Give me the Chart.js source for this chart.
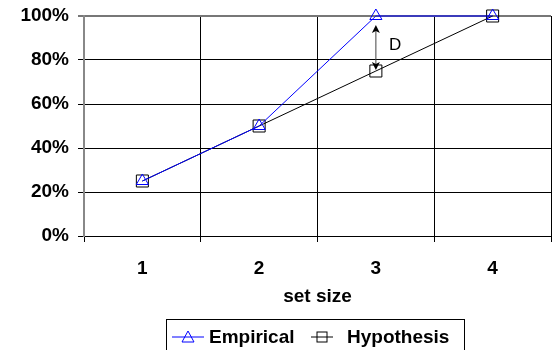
<!DOCTYPE html>
<html>
<head>
<meta charset="utf-8">
<script src="https://cdn.jsdelivr.net/npm/chart.js@4"></script>
<style>
  html, body { margin: 0; padding: 0; background: #fff; }
  #wrap { position: relative; width: 556px; height: 350px; overflow: hidden; }
  #legend {
    position: absolute; left: 166px; top: 319px; width: 299px; height: 40px;
    border: 1px solid #000; box-sizing: border-box;
    font: bold 19px "Liberation Sans", Arial, sans-serif; color: #000;
  }
  #legend .item { position: absolute; top: 6px; white-space: nowrap; }
  #legend svg { position: absolute; top: 0; }
</style>
</head>
<body>
<div id="wrap">
  <canvas id="myChart" width="556" height="350"></canvas>
  <div id="legend">
    <svg style="left:5px" width="34" height="36">
      <line x1="0" y1="17" x2="32" y2="17" stroke="#0000ff" stroke-width="1"/>
      <polygon points="16,11 22,22 10,22" fill="none" stroke="#0000ff" stroke-width="1"/>
    </svg>
    <span class="item" style="left:42px">Empirical</span>
    <svg style="left:144px" width="24" height="36">
      <line x1="0" y1="17" x2="22" y2="17" stroke="#000" stroke-width="1"/>
      <rect x="6" y="12" width="10" height="10" fill="none" stroke="#000" stroke-width="1"/>
    </svg>
    <span class="item" style="left:180px">Hypothesis</span>
  </div>
</div>
<script>
// set sizes on the x axis
const setSizes = ['1', '2', '3', '4'];
// proportions in percent
const empirical = [25, 50, 100, 100];
const hypothesis = [25, 50, 75, 100];
const yTicks = [0, 20, 40, 60, 80, 100];

const font = {family: '"Liberation Sans", Arial, sans-serif', size: 19, weight: 'bold'};

// double arrow between the two series at set size 3, labelled D
const gapArrow = {
    id: 'gapArrow',
    afterDatasetsDraw(chart) {
        const x = chart.scales.x.getPixelForValue(2);
        const y1 = chart.scales.y.getPixelForValue(empirical[2]) + 9;
        const y2 = chart.scales.y.getPixelForValue(hypothesis[2]) - 1;
        const ctx = chart.ctx;
        ctx.save();
        ctx.strokeStyle = '#444';
        ctx.fillStyle = '#000';
        ctx.lineWidth = 1;
        ctx.beginPath();
        ctx.moveTo(x, y1 + 2);
        ctx.lineTo(x, y2 - 2);
        ctx.stroke();
        // heads
        ctx.beginPath();
        ctx.moveTo(x, y1);
        ctx.lineTo(x - 4, y1 + 8);
        ctx.lineTo(x, y1 + 6);
        ctx.lineTo(x + 4, y1 + 8);
        ctx.closePath();
        ctx.fill();
        ctx.beginPath();
        ctx.moveTo(x, y2);
        ctx.lineTo(x - 4, y2 - 8);
        ctx.lineTo(x, y2 - 6);
        ctx.lineTo(x + 4, y2 - 8);
        ctx.closePath();
        ctx.fill();
        ctx.font = '17px "Liberation Sans", Arial, sans-serif';
        ctx.textAlign = 'left';
        ctx.textBaseline = 'middle';
        ctx.fillText('D', x + 13, (y1 + y2) / 2 - 2);
        ctx.restore();
    }
};

const chartContext = document.getElementById('myChart').getContext('2d');
const myChart = new Chart(chartContext, {
    type: 'line',
    data: {
        labels: setSizes,
        datasets: [{
            label: 'Empirical',
            data: empirical,
            clip: false,
            borderColor: '#0000ff',
            backgroundColor: 'rgba(0,0,0,0)',
            borderWidth: 1,
            pointStyle: 'triangle',
            pointRadius: 7,
            pointBorderWidth: 1,
            pointBorderColor: '#0000ff',
            pointBackgroundColor: 'rgba(0,0,0,0)'
        }, {
            label: 'Hypothesis',
            data: hypothesis,
            clip: false,
            borderColor: '#000',
            backgroundColor: 'rgba(0,0,0,0)',
            borderWidth: 1,
            pointStyle: 'rect',
            pointRadius: 8.5,
            pointBorderWidth: 1,
            pointBorderColor: '#000',
            pointBackgroundColor: 'rgba(0,0,0,0)'
        }]
    },
    options: {
        responsive: false,
        animation: false,
        events: [],
        layout: {autoPadding: false, padding: {top: 16, right: 5, bottom: 40, left: 0}},
        plugins: {
            legend: {display: false},
            tooltip: {enabled: false}
        },
        scales: {
            x: {
                offset: true,
                grid: {offset: true, color: '#000', lineWidth: 1, tickLength: 6},
                border: {color: '#000', width: 1},
                ticks: {color: '#000', font: font, padding: 15, maxRotation: 0},
                title: {display: true, text: 'set size', color: '#000', font: font, padding: {top: 2, bottom: 2}},
                afterFit(scale) {
                    scale.height = 74;
                    scale.paddingLeft = 0;
                    scale.paddingRight = 0;
                }
            },
            y: {
                min: 0,
                max: 100,
                afterBuildTicks(scale) { scale.ticks = yTicks.map(v => ({value: v})); },
                grid: {
                    color: (c) => c.tick && c.tick.value === 100 ? '#777' : '#000',
                    lineWidth: (c) => c.tick && c.tick.value === 100 ? 2 : 1,
                    tickLength: 6
                },
                border: {color: '#888', width: 2},
                ticks: {color: '#000', font: font, padding: 9, callback: (v) => v + '%'},
                afterFit(scale) {
                    scale.width = 84;
                    scale.paddingTop = 0;
                    scale.paddingBottom = 0;
                }
            }
        }
    },
    plugins: [gapArrow]
});
</script>
</body>
</html>
